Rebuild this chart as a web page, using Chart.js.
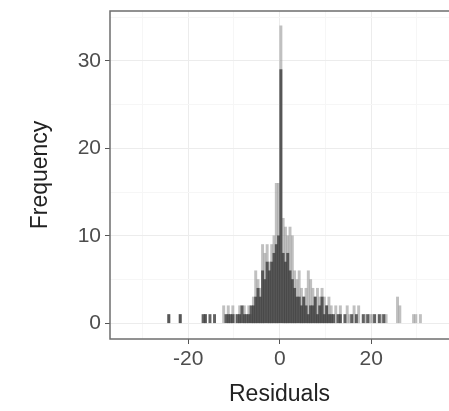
<!DOCTYPE html>
<html>
<head>
<meta charset="utf-8">
<script src="https://cdn.jsdelivr.net/npm/chart.js@4"></script>
<style>
  html, body { margin: 0; padding: 0; background: #ffffff; }
  #wrap { width: 449px; height: 411px; }
</style>
</head>
<body>
<div id="wrap"><canvas id="resid-chart" width="449" height="411"></canvas></div>
<script>
// Residual histogram, bin width 0.5 (bin centres)
const darkBins = [-24.25, -21.75, -16.75, -16.25, -15.25, -14.25, -11.75, -11.25, -10.75, -10.25, -9.25, -8.75,
  -8.25, -7.75, -7.25, -6.75, -6.25, -5.75, -5.25, -4.75, -4.25, -3.75, -3.25, -2.75, -2.25, -1.75, -1.25,
  -0.75, -0.25, 0.25, 0.75, 1.25, 1.75, 2.25, 2.75, 3.25, 3.75, 4.25, 4.75, 5.25, 5.75, 6.25, 6.75, 7.25,
  7.75, 8.25, 8.75, 9.25, 9.75, 10.25, 10.75, 11.25, 11.75, 12.75, 13.25, 14.25, 15.75, 16.75, 18.25,
  19.25, 20.75, 21.75, 22.75];
const darkCounts = [1, 1, 1, 1, 1, 1, 1, 1, 1, 1, 1, 1,
  2, 1, 1, 1, 2, 2, 3, 4, 3, 6, 5, 7, 6, 7, 8,
  9, 10, 29, 8, 7, 8, 6, 5, 4, 3, 3, 2, 3, 2, 1, 2, 2,
  3, 1, 2, 3, 1, 2, 1, 1, 1, 1, 1, 1, 1, 1, 1,
  1, 1, 1, 1];

const lightBins = [-24.25, -21.75, -16.25, -12.25, -11.25, -10.25, -9.75, -8.75, -7.75, -6.75, -6.25, -5.75,
  -5.25, -4.75, -4.25, -3.75, -3.25, -2.75, -2.25, -1.75, -1.25, -0.75, -0.25, 0.25, 0.75, 1.25, 1.75,
  2.25, 2.75, 3.25, 3.75, 4.25, 4.75, 5.25, 5.75, 6.25, 6.75, 7.25, 7.75, 8.25, 8.75, 9.25, 9.75, 10.25,
  10.75, 11.25, 12.25, 13.25, 14.75, 15.25, 16.25, 17.25, 18.75, 19.75, 20.25, 22.25, 23.25, 25.75,
  26.25, 29.25, 29.75, 30.75];
const lightCounts = [1, 1, 1, 2, 2, 2, 1, 2, 2, 2, 1, 3,
  6, 5, 4, 9, 8, 9, 7, 9, 10, 16, 16, 34, 12, 11, 10,
  11, 10, 6, 5, 6, 4, 3, 4, 6, 5, 4, 3, 4, 3, 4, 3, 2,
  3, 2, 2, 2, 2, 1, 2, 2, 1, 1, 1, 1, 1, 3,
  2, 1, 1, 1];

const xTickLabels = [-20, 0, 20];
const yTickLabels = [0, 10, 20, 30];

function toPoints(bins, counts) {
    return bins.map((b, i) => ({ x: b, y: counts[i] }));
}

// ggplot-like panel border
const panelBorder = {
    id: 'panelBorder',
    afterDraw(chart) {
        const a = chart.chartArea;
        const ctx = chart.ctx;
        ctx.save();
        ctx.strokeStyle = '#6e6e6e';
        ctx.lineWidth = 1.5;
        ctx.strokeRect(a.left, a.top, a.right - a.left + 5, a.bottom - a.top);
        ctx.restore();
    }
};

const tickFont = { family: 'Liberation Sans, Arial, sans-serif', size: 21 };
const titleFont = { family: 'Liberation Sans, Arial, sans-serif', size: 23 };

new Chart(document.getElementById('resid-chart'), {
    type: 'bar',
    data: {
        datasets: [{
            label: 'dark',
            data: toPoints(darkBins, darkCounts),
            backgroundColor: 'rgba(64, 64, 64, 0.82)',
            borderWidth: 0
        }, {
            label: 'light',
            data: toPoints(lightBins, lightCounts),
            backgroundColor: 'rgba(150, 150, 150, 0.6)',
            borderWidth: 0
        }]
    },
    options: {
        responsive: false,
        animation: false,
        events: [],
        grouped: false,
        barPercentage: 1,
        categoryPercentage: 1,
        layout: { padding: { top: 11, right: 0, left: 0, bottom: 0 } },
        plugins: {
            legend: { display: false },
            tooltip: { enabled: false }
        },
        scales: {
            x: {
                type: 'linear',
                offset: false,
                min: -37.1,
                max: 37.0,
                afterFit(scale) {
                    scale.height = 72;
                    scale.paddingLeft = 0;
                    scale.paddingRight = 0;
                },
                grid: {
                    offset: false,
                    color: ctx => (ctx.tick && xTickLabels.includes(ctx.tick.value)) ? '#ececec' : '#f6f6f6',
                    tickColor: ctx => (ctx.tick && xTickLabels.includes(ctx.tick.value)) ? '#555555' : 'rgba(0,0,0,0)',
                    tickLength: 5
                },
                border: { display: false },
                ticks: {
                    stepSize: 10,
                    includeBounds: false,
                    autoSkip: false,
                    maxRotation: 0,
                    padding: 3,
                    color: '#4d4d4d',
                    font: tickFont,
                    callback: v => xTickLabels.includes(v) ? String(v) : ''
                },
                title: {
                    display: true,
                    text: 'Residuals',
                    color: '#222222',
                    font: titleFont,
                    padding: { top: 0, bottom: 3 }
                }
            },
            y: {
                type: 'linear',
                min: -1.8,
                max: 35.7,
                afterFit(scale) {
                    scale.width = 110;
                    scale.paddingTop = 0;
                    scale.paddingBottom = 0;
                },
                grid: {
                    color: ctx => (ctx.tick && yTickLabels.includes(ctx.tick.value)) ? '#ececec' : '#f6f6f6',
                    tickColor: ctx => (ctx.tick && yTickLabels.includes(ctx.tick.value)) ? '#555555' : 'rgba(0,0,0,0)',
                    tickLength: 5
                },
                border: { display: false },
                ticks: {
                    stepSize: 5,
                    includeBounds: false,
                    autoSkip: false,
                    padding: 4,
                    color: '#4d4d4d',
                    font: tickFont,
                    callback: v => yTickLabels.includes(v) ? String(v) : ''
                },
                title: {
                    display: true,
                    text: 'Frequency',
                    color: '#222222',
                    font: titleFont,
                    padding: { top: 27, bottom: 0 }
                }
            }
        }
    },
    plugins: [panelBorder]
});
</script>
</body>
</html>
